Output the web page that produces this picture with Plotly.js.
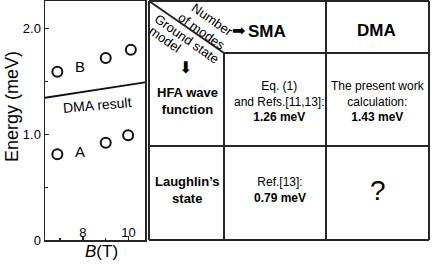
<!DOCTYPE html>
<html><head><meta charset="utf-8">
<script src="https://cdn.plot.ly/plotly-3.0.1.min.js"></script>
<style>html,body{margin:0;padding:0;background:#fff}#chart{width:432px;height:264px}</style>
</head><body><div id="chart"></div>
<script>
// ---- data (left plot) ----
const bA = [6.88, 9.0, 9.98];
const eA = [0.81, 0.92, 0.99];
const bB = [6.88, 9.0, 10.1];
const eB = [1.59, 1.72, 1.80];
const bDMA = [6.34, 10.72];
const eDMA = [1.345, 1.49];
const xTickVals = [8, 10];
const xTickText = ['8', '10'];
const yTickVals = [0, 1, 2];
const yTickText = ['0', '1.0', '2.0'];
// ---- table texts ----
const colHeaders = ['SMA', 'DMA'];
const rowHeaders = ['HFA wave<br>function', 'Laughlin\u2019s<br>state'];
const cellTexts = [
  ['Eq. (1)<br>and Refs.[11,13]:<br><b>1.26 meV</b>', 'The present work<br>calculation:<br><b>1.43 meV</b>'],
  ['Ref.[13]:<br><b>0.79 meV</b>', '?']
];
const cornerTop = ['Number', 'of modes'];
const cornerBottom = ['Ground state', 'model'];

const W = 432, H = 264;
const px = x => x / W;
const py = y => 1 - y / H;
const FONT = 'Liberation Sans, Arial, sans-serif';
const INK = '#111';
const LINE = '#262626';

const traces = [
  {x: bDMA, y: eDMA, mode: 'lines', line: {color: INK, width: 1.8}, hoverinfo: 'skip'},
  {x: bA, y: eA, mode: 'markers', marker: {symbol: 'circle-open', size: 10, color: INK, line: {width: 2, color: INK}}},
  {x: bB, y: eB, mode: 'markers', marker: {symbol: 'circle-open', size: 10, color: INK, line: {width: 2, color: INK}}}
];

const ann = [];
function pa(text, x, y, size, opts) {
  ann.push(Object.assign({text: text, x: px(x), y: py(y), xref: 'paper', yref: 'paper',
    showarrow: false, xanchor: 'center', yanchor: 'middle',
    font: {family: FONT, size: size, color: '#000'}}, opts || {}));
}
// plot labels (data coordinates)
ann.push({text: 'B', x: 7.89, y: 1.645, xref: 'x', yref: 'y', showarrow: false, font: {family: FONT, size: 15, color: '#000'}});
ann.push({text: 'A', x: 7.89, y: 0.84, xref: 'x', yref: 'y', showarrow: false, font: {family: FONT, size: 15, color: '#000'}});
ann.push({text: 'DMA result', x: 8.64, y: 1.275, xref: 'x', yref: 'y', showarrow: false, textangle: -5, font: {family: FONT, size: 14, color: '#000'}});
// axis titles
pa('Energy (meV)', 12, 107, 18, {textangle: -90});
pa('<i>B</i>(T)', 101, 251, 17);
// table headers
pa('<b>' + colHeaders[0] + '</b>', 267, 31, 17);
pa('<b>' + colHeaders[1] + '</b>', 376, 30, 17);
pa('<b>' + rowHeaders[0] + '</b>', 187, 101, 13);
pa('<b>' + rowHeaders[1] + '</b>', 187, 190, 13);
pa(cellTexts[0][0], 279, 101, 12, {align: 'center'});
pa(cellTexts[0][1], 378, 101, 12, {align: 'center'});
pa(cellTexts[1][0], 280, 190, 12, {align: 'center'});
pa(cellTexts[1][1], 378, 190, 28);
// corner diagonal labels
pa(cornerTop[0], 212, 19.5, 13, {textangle: 35});
pa(cornerTop[1], 202, 31, 13, {textangle: 35});
pa(cornerBottom[0], 186, 39, 13, {textangle: 35});
pa(cornerBottom[1], 165, 40, 13, {textangle: 35});
pa('\u27A1', 239, 30, 16, {font: {family: 'DejaVu Sans', size: 16, color: '#000'}});
pa('\u2B07', 185, 67, 16, {font: {family: 'DejaVu Sans', size: 16, color: '#000'}});

// table lines
const shapes = [];
function ln(x0, y0, x1, y1) {
  shapes.push({type: 'line', xref: 'paper', yref: 'paper', x0: px(x0), y0: py(y0), x1: px(x1), y1: py(y1),
    line: {color: LINE, width: 2}, layer: 'above'});
}
ln(149, 1, 429, 1);
ln(149, 240, 429, 240);
ln(149, 1, 149, 240);
ln(429, 1, 429, 240);
ln(224, 53, 224, 240);
ln(326, 1, 326, 240);
ln(224, 53, 429, 53);
ln(149, 146, 429, 146);
ln(149, 1, 224, 53);

const layout = {
  width: W, height: H,
  margin: {l: 0, r: 0, t: 0, b: 0},
  paper_bgcolor: '#fff', plot_bgcolor: '#fff',
  showlegend: false,
  font: {family: FONT, size: 13, color: '#000'},
  xaxis: {
    domain: [px(45), px(145)], range: [6.34, 10.72],
    showline: true, mirror: true, linecolor: LINE, linewidth: 1.5,
    showgrid: false, zeroline: false,
    tickmode: 'array', tickvals: xTickVals, ticktext: xTickText,
    ticks: 'inside', ticklen: 4, tickwidth: 1.2, tickcolor: LINE,
    ticklabelposition: 'inside', ticklabelstandoff: -4, ticklabeloverflow: 'allow',
    tickfont: {family: FONT, size: 13, color: '#000'},
    minor: {tickmode: 'array', tickvals: [7, 9], ticks: 'inside', ticklen: 2, tickcolor: LINE},
    fixedrange: true
  },
  yaxis: {
    domain: [py(240), py(1)], range: [0, 2.26],
    showline: true, mirror: true, linecolor: LINE, linewidth: 1.5,
    showgrid: false, zeroline: false,
    tickmode: 'array', tickvals: yTickVals, ticktext: yTickText,
    ticks: 'inside', ticklen: 4, tickwidth: 1.2, tickcolor: LINE,
    ticklabeloverflow: 'allow',
    tickfont: {family: FONT, size: 13, color: '#000'},
    minor: {tickmode: 'array', tickvals: [0.5, 1.5], ticks: 'inside', ticklen: 3, tickcolor: LINE},
    fixedrange: true
  },
  annotations: ann,
  shapes: shapes
};

Plotly.newPlot('chart', traces, layout, {staticPlot: true, displayModeBar: false});
</script>
</body></html>
